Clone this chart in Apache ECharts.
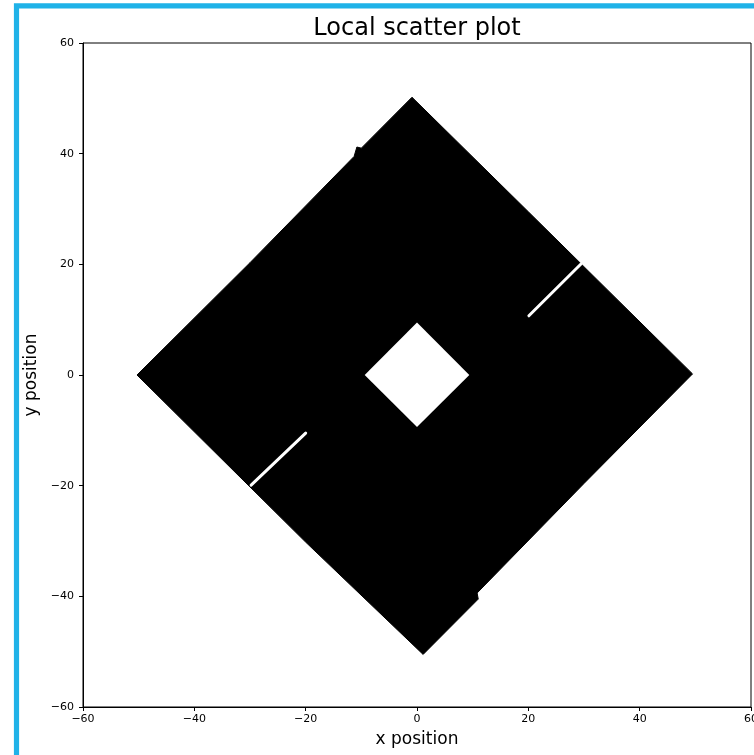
<!DOCTYPE html>
<html>
<head>
<meta charset="utf-8">
<script src="https://cdn.jsdelivr.net/npm/echarts@6/dist/echarts.min.js"></script>
<style>
html,body{margin:0;padding:0;background:#fff;}
#chart{width:754px;height:755px;}
</style>
</head>
<body>
<div id="chart"></div>
<script>
// ---- data (in data units) ----
var xTicks = [-60, -40, -20, 0, 20, 40, 60];
var yTicks = [-60, -40, -20, 0, 20, 40, 60];
// outer boundary of the dense point cloud
var outerBoundary = [
  [-50.3, 0.0], [-30.0, 20.3], [-11.3, 39.5], [-10.8, 41.2], [-10.0, 41.0], [-0.9, 50.2],
  [20.0, 29.5], [49.5, 0.2], [30.0, -19.6], [10.8, -39.4], [11.0, -40.5], [1.1, -50.5],
  [-20.0, -30.2]
];
// empty square hole in the centre
var holeBoundary = [[0.0, 9.5], [9.4, 0.0], [0.0, -9.4], [-9.4, 0.0]];
// two thin empty slits
var slitLower = [[-29.8, -19.9], [-20.0, -10.5]];
var slitUpper = [[20.1, 10.7], [29.5, 20.1]];

var minusFmt = function (v) { return v < 0 ? '\u2212' + Math.abs(v) : String(v); };

var chart = echarts.init(document.getElementById('chart'), null, {renderer: 'canvas'});

function polyCoords(api, arr) {
  return arr.map(function (p) { return api.coord(p); });
}

var option = {
  backgroundColor: '#ffffff',
  animation: false,
  textStyle: {fontFamily: 'DejaVu Sans'},
  title: {
    text: 'Local scatter plot',
    left: 412,
    textAlign: 'center',
    top: 12,
    textStyle: {fontFamily: 'DejaVu Sans', fontSize: 24, fontWeight: 'normal', color: '#000'}
  },
  graphic: [{
    type: 'rect',
    shape: {x: 16.5, y: 5.8, width: 1000, height: 1000},
    style: {fill: 'none', stroke: '#1fb2e8', lineWidth: 5.2},
    silent: true,
    z: 100
  }],
  grid: {
    left: 83, top: 43, width: 668, height: 664,
    outerBoundsMode: 'none', containLabel: false,
    show: true, borderColor: '#000', borderWidth: 1, backgroundColor: 'transparent'
  },
  xAxis: {
    type: 'value', min: -60, max: 60, interval: 20,
    name: 'x position', nameLocation: 'middle', nameGap: 24,
    nameTextStyle: {fontFamily: 'DejaVu Sans', fontSize: 17, color: '#000'},
    axisLine: {show: true, onZero: false, lineStyle: {color: '#000', width: 1}},
    axisTick: {show: true, inside: false, length: 4, lineStyle: {color: '#000'}},
    axisLabel: {fontFamily: 'DejaVu Sans', fontSize: 11, color: '#000', margin: 7,
      formatter: minusFmt, customValues: xTicks, showMinLabel: true, showMaxLabel: true},
    splitLine: {show: false}
  },
  yAxis: {
    type: 'value', min: -60, max: 60, interval: 20,
    name: 'y position', nameLocation: 'middle', nameGap: 36, nameRotate: 90,
    nameTextStyle: {fontFamily: 'DejaVu Sans', fontSize: 17, color: '#000'},
    axisLine: {show: true, onZero: false, lineStyle: {color: '#000', width: 1}},
    axisTick: {show: true, inside: false, length: 4, lineStyle: {color: '#000'}},
    axisLabel: {fontFamily: 'DejaVu Sans', fontSize: 11, color: '#000', margin: 9,
      formatter: minusFmt, customValues: yTicks, showMinLabel: true, showMaxLabel: true},
    splitLine: {show: false}
  },
  series: [{
    type: 'custom',
    coordinateSystem: 'cartesian2d',
    data: [[0, 0]],
    encode: {x: 0, y: 1},
    clip: true,
    renderItem: function (params, api) {
      return {
        type: 'group',
        children: [
          {type: 'polygon', shape: {points: polyCoords(api, outerBoundary)},
            style: {fill: '#000', stroke: '#000', lineWidth: 1, lineJoin: 'round'}},
          {type: 'polygon', shape: {points: polyCoords(api, holeBoundary)},
            style: {fill: '#fff', stroke: 'none'}},
          {type: 'polyline', shape: {points: polyCoords(api, slitLower)},
            style: {stroke: '#fff', lineWidth: 3, fill: 'none', lineCap: 'round'}},
          {type: 'polyline', shape: {points: polyCoords(api, slitUpper)},
            style: {stroke: '#fff', lineWidth: 3, fill: 'none', lineCap: 'round'}}
        ]
      };
    }
  }]
};
chart.setOption(option);
</script>
</body>
</html>
